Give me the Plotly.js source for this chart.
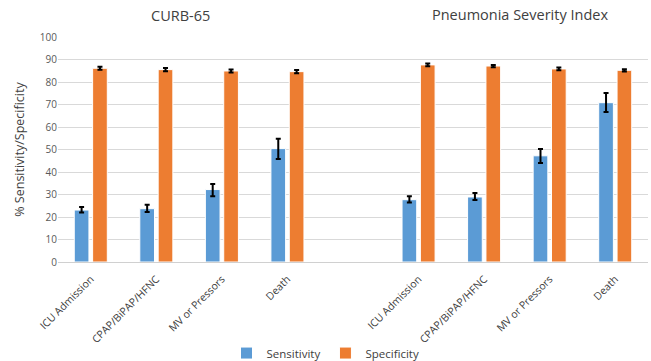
<!DOCTYPE html>
<html>
<head>
<meta charset="utf-8">
<script src="https://cdn.plot.ly/plotly-3.0.1.min.js"></script>
<style>html,body{margin:0;padding:0;background:#fff;}#chart{width:651px;height:361px;}</style>
</head>
<body>
<div id="chart"></div>
<script>
// Data
const categories = ["ICU Admission", "CPAP/BiPAP/HFNC", "MV or Pressors", "Death"];
const groups = ["CURB-65", "Pneumonia Severity Index"];
const curbSens = [23.1, 23.7, 32.2, 50.4];
const curbSensUp = [1.3, 1.8, 2.5, 4.4];
const curbSensDown = [1.1, 1.5, 3.0, 4.6];
const curbSpec = [86.1, 85.5, 84.9, 84.6];
const curbSpecErr = [0.7, 0.7, 0.7, 0.7];
const psiSens = [27.7, 28.9, 47.2, 70.8];
const psiSensUp = [1.5, 1.8, 3.0, 4.3];
const psiSensDown = [1.3, 1.3, 3.2, 4.1];
const psiSpec = [87.6, 87.1, 85.8, 85.2];
const psiSpecErr = [0.6, 0.5, 0.6, 0.5];

// positions: slots 1-4 for CURB-65, slot 5 empty, slots 6-9 for PSI
const xs = [1, 2, 3, 4, 6, 7, 8, 9];
const ticktext = categories.concat(categories);

const sens = curbSens.concat(psiSens);
const sensUp = curbSensUp.concat(psiSensUp);
const sensDown = curbSensDown.concat(psiSensDown);
const spec = curbSpec.concat(psiSpec);
const specErr = curbSpecErr.concat(psiSpecErr);

const errStyle = {color: '#000', thickness: 2, width: 2.5};

const traces = [
  {
    type: 'bar', name: 'Sensitivity', x: xs, y: sens,
    marker: {color: '#5b9bd5', line: {color: '#ffffff', width: 1}},
    error_y: Object.assign({type: 'data', symmetric: false, array: sensUp, arrayminus: sensDown}, errStyle),
    hoverinfo: 'y'
  },
  {
    type: 'bar', name: 'Specificity', x: xs, y: spec,
    marker: {color: '#ed7d31', line: {color: '#ffffff', width: 1}},
    error_y: Object.assign({type: 'data', array: specErr}, errStyle),
    hoverinfo: 'y'
  }
];

const font = {family: 'Open Sans, Noto Sans, sans-serif', color: '#404040'};

const layout = {
  width: 651, height: 361,
  margin: {l: 58, r: 3, t: 37, b: 99},
  paper_bgcolor: '#ffffff', plot_bgcolor: '#ffffff',
  barmode: 'group', bargap: 0.44, bargroupgap: 0.2,
  showlegend: true,
  legend: {orientation: 'h', xref: 'container', x: 0.5, xanchor: 'center',
           yref: 'container', y: 0.022, yanchor: 'middle', bgcolor: 'rgba(0,0,0,0)',
           font: Object.assign({}, font, {size: 11.5}), itemwidth: 30, traceorder: 'normal'},
  font: font,
  xaxis: {
    range: [0.5, 9.5], tickmode: 'array', tickvals: xs, ticktext: ticktext,
    tickangle: -45, tickfont: Object.assign({}, font, {size: 10.5}),
    showgrid: false, zeroline: false, showline: false, automargin: false,
    ticks: 'outside', ticklen: 6, tickcolor: 'rgba(0,0,0,0)', fixedrange: true
  },
  yaxis: {
    range: [0, 100], dtick: 10, tickfont: Object.assign({}, font, {size: 10, color: '#595959'}),
    gridcolor: '#d9d9d9', gridwidth: 1, zeroline: true, zerolinecolor: '#d0d0d0', zerolinewidth: 1,
    showline: false, ticks: '', ticklen: 0, automargin: false,
    title: {text: '% Sensitivity/Specificity', font: Object.assign({}, font, {size: 12.5}), standoff: 12}
  },
  annotations: [
    {text: groups[0], xref: 'paper', yref: 'paper', x: (180 - 58) / 590, xanchor: 'center', y: 1, yshift: 22, yanchor: 'middle',
     showarrow: false, font: Object.assign({}, font, {size: 14.5})},
    {text: groups[1], xref: 'paper', yref: 'paper', x: (520 - 58) / 590, xanchor: 'center', y: 1, yshift: 23, yanchor: 'middle',
     showarrow: false, font: Object.assign({}, font, {size: 14.5})}
  ]
};

Plotly.newPlot('chart', traces, layout, {displayModeBar: false, staticPlot: true});
</script>
</body>
</html>
